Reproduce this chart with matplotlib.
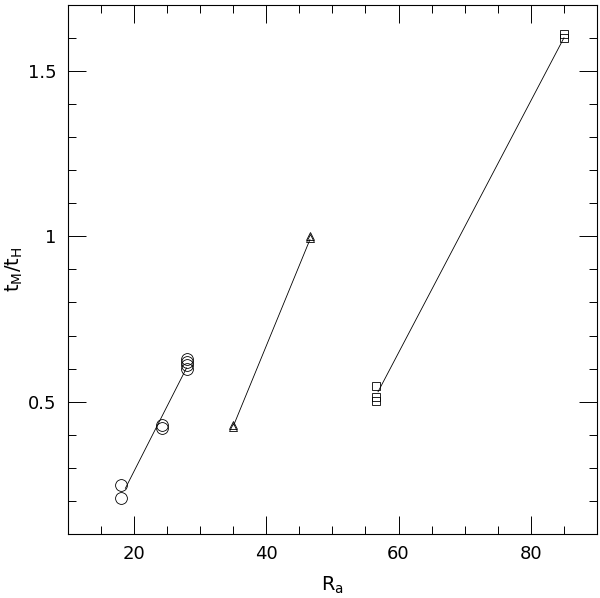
import matplotlib
matplotlib.use('Agg')
import matplotlib.pyplot as plt
from matplotlib.ticker import MultipleLocator

# Circles (low R_a group)
circ_x = [18.1, 18.1, 24.3, 24.3, 28.0, 28.0, 28.0, 28.0]
circ_y = [0.249, 0.21, 0.43, 0.42, 0.63, 0.62, 0.61, 0.60]
circ_fit_x = [18.7, 27.95]
circ_fit_y = [0.238, 0.602]

# Triangles
tri_x = [34.9, 34.9, 46.6, 46.6]
tri_y = [0.43, 0.425, 1.0, 0.995]
tri_fit_x = [35.1, 46.6]
tri_fit_y = [0.43, 0.99]

# Squares
sq_x = [56.6, 56.6, 56.6, 85.0, 85.0]
sq_y = [0.546, 0.513, 0.502, 1.612, 1.600]
sq_fit_x = [56.9, 85.0]
sq_fit_y = [0.53, 1.60]

fig = plt.figure(figsize=(6.0, 5.98), dpi=100)
ax = fig.add_axes([0.113, 0.107, 0.882, 0.885])

lw = 0.6
ax.plot(circ_fit_x, circ_fit_y, color='black', lw=lw)
ax.plot(tri_fit_x, tri_fit_y, color='black', lw=lw)
ax.plot(sq_fit_x, sq_fit_y, color='black', lw=lw)

ax.plot(circ_x, circ_y, 'o', ms=8.5, mfc='none', mec='black', mew=0.6, ls='none')
ax.plot(tri_x, tri_y, '^', ms=6, mfc='none', mec='black', mew=0.6, ls='none')
ax.plot(sq_x, sq_y, 's', ms=5.5, mfc='none', mec='black', mew=0.6, ls='none')

ax.set_xlim(10, 90)
ax.set_ylim(0.1, 1.7)
ax.xaxis.set_major_locator(MultipleLocator(20))
ax.xaxis.set_minor_locator(MultipleLocator(5))
ax.yaxis.set_major_locator(MultipleLocator(0.5))
ax.yaxis.set_minor_locator(MultipleLocator(0.1))
ax.yaxis.set_major_formatter(plt.FuncFormatter(lambda v, p: f'{v:g}'))

ax.tick_params(which='both', direction='in', top=True, right=True,
               labelsize=13, width=0.7, pad=8)
ax.tick_params(which='major', length=13)
ax.tick_params(which='minor', length=6)
for s in ax.spines.values():
    s.set_linewidth(0.8)

ax.set_xlabel(r'$\mathregular{R_a}$', fontsize=14, labelpad=8)
ax.set_ylabel(r'$\mathregular{t_M/t_H}$', fontsize=14)
ax.yaxis.set_label_coords(-0.08, 0.5)

fig.savefig('out.png', dpi=100)
